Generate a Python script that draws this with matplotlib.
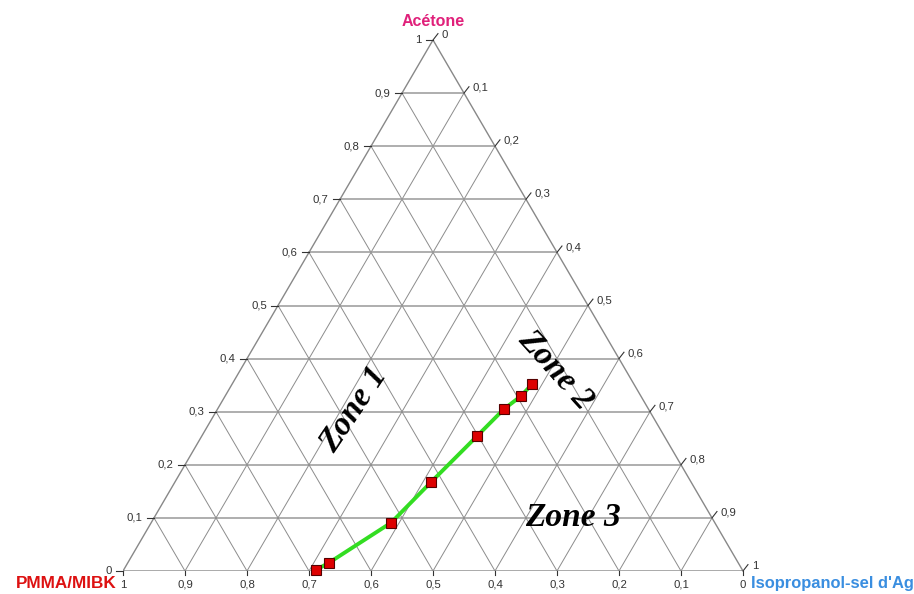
import numpy as np
import matplotlib
matplotlib.use("Agg")
import matplotlib.pyplot as plt

# Data: ternary compositions (fractions)
acetone = [0.002, 0.015, 0.091, 0.167, 0.254, 0.305, 0.329, 0.352]
pmma = [0.688, 0.661, 0.522, 0.420, 0.302, 0.233, 0.194, 0.164]
isoprop = [1 - a - p for a, p in zip(acetone, pmma)]
ticks = [round(0.1 * k, 1) for k in range(11)]
tick_labels = ["0" if t == 0 else ("1" if t == 1 else str(t).replace(".", ",")) for t in ticks]


def tern(a, i):
    a = np.asarray(a, float)
    i = np.asarray(i, float)
    return i + a / 2.0, a


W, H = 914, 594
fig = plt.figure(figsize=(W / 100, H / 100), dpi=100)
# triangle: left vertex px (123,571), right (743,571), apex (433,40)
ax = fig.add_axes([123 / W, (H - 571) / H, 620 / W, 531 / H])
ax.set_xlim(0, 1)
ax.set_ylim(0, 1)
ax.axis("off")

gcol = "#8c8c8c"
# grid lines
for t in ticks[1:-1]:
    # constant acetone (horizontal)
    x0, y0 = tern(t, 0)
    x1, y1 = tern(t, 1 - t)
    ax.plot([x0, x1], [y0, y1], color="#999999", lw=1.1, zorder=1)
    # constant isopropanol
    x0, y0 = tern(0, t)
    x1, y1 = tern(1 - t, t)
    ax.plot([x0, x1], [y0, y1], color=gcol, lw=0.7, zorder=1)
    # constant pmma: p = t -> a + i = 1 - t
    x0, y0 = tern(0, 1 - t)
    x1, y1 = tern(1 - t, 0)
    ax.plot([x0, x1], [y0, y1], color=gcol, lw=0.7, zorder=1)
# triangle edges
ax.plot([0, 1, 0.5, 0], [0, 0, 1, 0], color="#888888", lw=1.0, zorder=1)

fs_tick = 8.2
tcol = "#333333"
# left axis (acetone) labels
for t, lab in zip(ticks, tick_labels):
    x, y = tern(t, 0)
    ax.plot([x - 0.011, x], [y, y], color="#333333", lw=0.8, clip_on=False)
    ax.text(x - 0.018, y, lab, ha="right", va="center", fontsize=fs_tick,
            color=tcol, family="Liberation Sans", clip_on=False)
# right axis (isopropanol) labels: 0 at top, 1 bottom
for t, lab in zip(ticks, tick_labels):
    x, y = tern(1 - t, t)
    ax.plot([x, x + 0.008], [y, y + 0.012], color="#333333", lw=0.8, clip_on=False)
    ax.text(x + 0.014, y + 0.01, lab, ha="left", va="center", fontsize=fs_tick,
            color=tcol, family="Liberation Sans", clip_on=False)
# bottom axis (pmma) labels: 1 at left, 0 at right
for t, lab in zip(ticks, tick_labels):
    x, y = tern(0, 1 - t)
    ax.plot([x, x], [0, -0.008], color="#333333", lw=0.8, clip_on=False)
    ax.text(x, -0.026, lab, ha="center", va="center", fontsize=fs_tick,
            color=tcol, family="Liberation Sans", clip_on=False)

# vertex titles
ax.text(0.5, (571 - 22) / 531, "Acétone", ha="center", va="center", fontsize=11.5,
        color="#e0207a", fontweight="bold", family="Liberation Sans", clip_on=False)
ax.text((117 - 123) / 620, -0.023, "PMMA/MIBK", ha="right", va="center", fontsize=12.3,
        color="#dd1111", fontweight="bold", family="Liberation Sans", clip_on=False)
ax.text((751 - 123) / 620, -0.023, "Isopropanol-sel d'Ag", ha="left", va="center",
        fontsize=11.9, color="#3a8ee0", fontweight="bold", family="Liberation Sans",
        clip_on=False)

# data
px, py = tern(acetone, isoprop)
ax.plot(px, py, color="#33dd22", lw=2.8, zorder=3, clip_on=False)
ax.plot(px, py, ls="none", marker="s", ms=6.5, mfc="#dd0000", mec="#550000",
        mew=0.8, zorder=4, clip_on=False)

# zones
zkw = dict(family="Liberation Serif", fontweight="bold", fontstyle="italic",
           fontsize=24, color="black", ha="center", va="center", zorder=5)
ax.text((354 - 123) / 620, (571 - 410) / 531, "Zone 1", rotation=56, **zkw)
ax.text((555 - 123) / 620, (571 - 370) / 531, "Zone 2", rotation=-48, **zkw)
ax.text((573 - 123) / 620, (571 - 517) / 531, "Zone 3", rotation=0, **zkw)

fig.savefig("out.png", dpi=100, facecolor="white")
